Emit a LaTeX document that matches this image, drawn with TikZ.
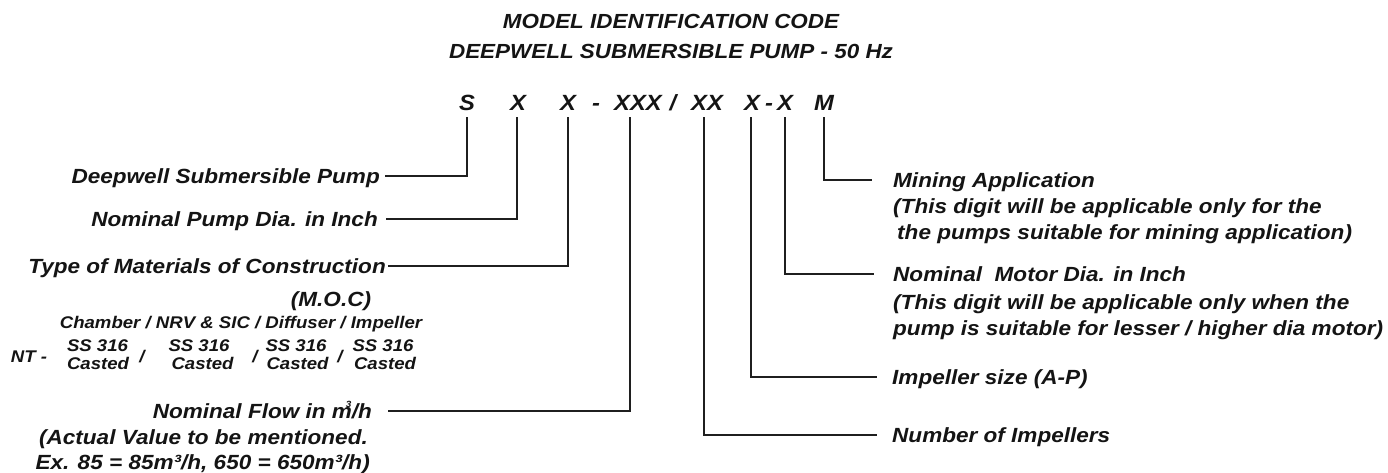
\documentclass[tikz,border=0pt]{standalone}
\usepackage{fontspec}
\setmainfont{Liberation Sans}
\newfontfamily\lblfont[FakeStretch=1.1]{Liberation Sans}
\newfontfamily\codefont[FakeStretch=1.08]{Liberation Sans}
\tikzset{
  lbl/.style={font=\lblfont\bfseries\itshape\fontsize{20.5}{22}\selectfont, inner sep=0pt, text height=14.7pt, text depth=0pt, text=black!92},
  sml/.style={font=\lblfont\bfseries\itshape\fontsize{16.9}{18}\selectfont, inner sep=0pt, text=black!92},
  ttl/.style={font=\lblfont\bfseries\itshape\fontsize{20.4}{22}\selectfont, inner sep=0pt, text height=14.6pt, text depth=0pt, text=black!92},
  code/.style={font=\codefont\bfseries\itshape\fontsize{22}{22}\selectfont, inner sep=0pt, text=black!92},
  conn/.style={line width=1.2pt, draw=black!88}
}
\begin{document}
\begin{tikzpicture}[x=1pt, y=-1pt]
\useasboundingbox[fill=white] (0,0) rectangle (1388,472);
% titles
\node[ttl] (t1) at (671,21) {MODEL IDENTIFICATION CODE};
\node[ttl] (t2) at (671,51) {DEEPWELL SUBMERSIBLE PUMP - 50 Hz};
% code letters
\node[code, anchor=base] (cS)   at (467,110) {S};
\node[code, anchor=base] (cX1)  at (518,110) {X};
\node[code, anchor=base] (cX2)  at (568,110) {X};
\node[code, anchor=base] (cD1)  at (596,110) {-};
\node[code, anchor=base] (cXXX) at (638,110) {XXX};
\node[code, anchor=base] (cSl)  at (673,110) {/};
\node[code, anchor=base] (cXX)  at (707,110) {XX};
\node[code, anchor=base] (cX3)  at (752,110) {X};
\node[code, anchor=base] (cD2)  at (769,110) {-};
\node[code, anchor=base] (cX4)  at (785,110) {X};
\node[code, anchor=base] (cM)   at (824,110) {M};
% left labels
\node[lbl, inner xsep=5pt, anchor=east] (lDeep) at (385,176) {Deepwell Submersible Pump};
\node[lbl, inner xsep=8pt, anchor=east] (lDia) at (386,219) {Nominal Pump Dia. in Inch};
\node[lbl, inner xsep=2pt, anchor=east] (lType) at (388,266) {Type of Materials of Construction};
\node[lbl, anchor=base] (lMoc) at (331,306.5) {(M.O.C)};
\node[sml, anchor=base] (lCh) at (241,328) {Chamber / NRV \& SIC / Diffuser / Impeller};
\node[sml, anchor=base] (lNT) at (29,362) {NT -};
\node[sml, anchor=base] (ss1) at (97.5,351) {SS 316};
\node[sml, anchor=base] (ca1) at (98,369) {Casted};
\node[sml, anchor=base] (ss2) at (199,351) {SS 316};
\node[sml, anchor=base] (ca2) at (202.5,369) {Casted};
\node[sml, anchor=base] (ss3) at (296,351) {SS 316};
\node[sml, anchor=base] (ca3) at (297.5,369) {Casted};
\node[sml, anchor=base] (ss4) at (383,351) {SS 316};
\node[sml, anchor=base] (ca4) at (385,369) {Casted};
\node[sml, anchor=base] (sl1) at (142,362) {/};
\node[sml, anchor=base] (sl2) at (255,362) {/};
\node[sml, anchor=base] (sl3) at (340,362) {/};
\node[lbl, inner xsep=16pt, anchor=east] (lFlow) at (388,411) {Nominal Flow in m\kern-0.3em\raisebox{0.55em}{\fontsize{9}{9}\selectfont 3}\kern0.02em/h};
\node[lbl, anchor=base east] (lAct) at (368,444.5) {(Actual Value to be mentioned.};
\node[lbl, anchor=base east] (lEx) at (370,469) {Ex. 85 = 85m³/h, 650 = 650m³/h)};
% right labels
\node[lbl, inner xsep=21pt, anchor=west] (rMin) at (872,180) {Mining Application};
\node[lbl, anchor=base west] (rMin2) at (893,213.5) {(This digit will be applicable only for the};
\node[lbl, anchor=base west] (rMin3) at (897,239.5) {the pumps suitable for mining application)};
\node[lbl, inner xsep=19pt, anchor=west] (rMot) at (874,274) {Nominal\ \ Motor Dia. in Inch};
\node[lbl, anchor=base west] (rMot2) at (893,309) {(This digit will be applicable only when the};
\node[lbl, anchor=base west] (rMot3) at (893,335) {pump is suitable for lesser / higher dia motor)};
\node[lbl, inner xsep=15pt, anchor=west] (rImp) at (877,377) {Impeller size (A-P)};
\node[lbl, inner xsep=15pt, anchor=west] (rNum) at (877,435) {Number of Impellers};
% connectors
\draw[conn] ([yshift=-7pt]cS.south) |- (lDeep.east);
\draw[conn] ([xshift=-1pt,yshift=-7pt]cX1.south) |- (lDia.east);
\draw[conn] ([yshift=-7pt]cX2.south) |- (lType.east);
\draw[conn] ([xshift=-8pt,yshift=-7pt]cXXX.south) |- (lFlow.east);
\draw[conn] ([xshift=-3pt,yshift=-7pt]cXX.south) |- (rNum.west);
\draw[conn] ([xshift=-1pt,yshift=-7pt]cX3.south) |- (rImp.west);
\draw[conn] ([yshift=-7pt]cX4.south) |- (rMot.west);
\draw[conn] ([yshift=-7pt]cM.south) |- (rMin.west);
\end{tikzpicture}
\end{document}
